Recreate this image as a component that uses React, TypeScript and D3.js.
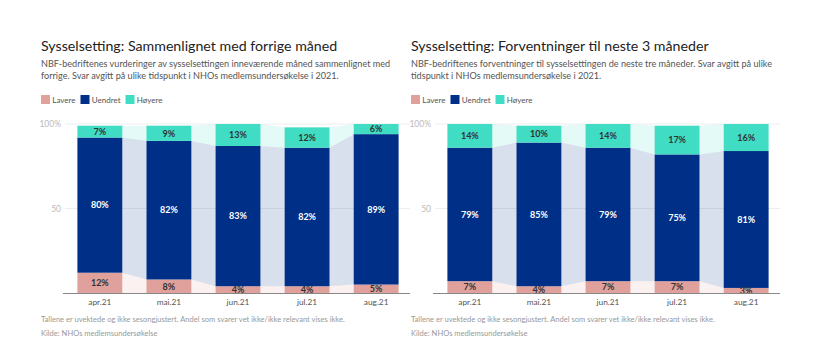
import React, { useEffect, useRef } from "react";
import * as d3 from "d3";

// months on the x axis
const months = ["apr.21", "mai.21", "jun.21", "jul.21", "aug.21"];
const seriesNames = ["Lavere", "Uendret", "Høyere"];
const seriesColors = ["#e0a19c", "#002f87", "#40dcc3"];
const labelColors = ["#333333", "#ffffff", "#333333"];

// left chart: sammenlignet med forrige måned
const lavereNow = [12, 8, 4, 4, 5];
const uendretNow = [80, 82, 83, 82, 89];
const hoyereNow = [7, 9, 13, 12, 6];

// right chart: forventninger til neste 3 måneder
const lavereNext = [7, 4, 7, 7, 3];
const uendretNext = [79, 85, 79, 75, 81];
const hoyereNext = [14, 10, 14, 17, 16];

const yTicks = [50, 100];

interface PanelSpec {
  x0: number;
  title: string;
  subtitle: string[];
  values: number[][];
}

const panels: PanelSpec[] = [
  {
    x0: 0,
    title: "Sysselsetting: Sammenlignet med forrige måned",
    subtitle: [
      "NBF-bedriftenes vurderinger av sysselsettingen inneværende måned sammenlignet med",
      "forrige. Svar avgitt på ulike tidspunkt i NHOs medlemsundersøkelse i 2021.",
    ],
    values: [lavereNow, uendretNow, hoyereNow],
  },
  {
    x0: 370,
    title: "Sysselsetting: Forventninger til neste 3 måneder",
    subtitle: [
      "NBF-bedriftenes forventninger til sysselsettingen de neste tre måneder. Svar avgitt på ulike",
      "tidspunkt i NHOs medlemsundersøkelse i 2021.",
    ],
    values: [lavereNext, uendretNext, hoyereNext],
  },
];

const FONT = "Lato, 'Open Sans', sans-serif";

export default function App() {
  const svgRef = useRef<SVGSVGElement>(null);

  useEffect(() => {
    if (!svgRef.current) return;
    const svg = d3.select(svgRef.current);
    svg.selectAll("*").remove();

    const yScale = d3.scaleLinear().domain([0, 100]).range([293, 124]);

    panels.forEach((p) => {
      const g = svg.append("g").attr("transform", `translate(${p.x0},0)`);

      const xScale = d3
        .scaleBand<string>()
        .domain(months)
        .range([66, 410])
        .paddingInner(0.35)
        .paddingOuter(0.165);
      const bw = xScale.bandwidth();

      // titles
      g.append("text")
        .attr("x", 41)
        .attr("y", 50.5)
        .style("font-family", FONT)
        .style("font-size", "14.2px")
        .style("fill", "#222")
        .text(p.title);

      p.subtitle.forEach((line, i) => {
        g.append("text")
          .attr("x", 41)
          .attr("y", 67 + i * 11.5)
          .style("font-family", FONT)
          .style("font-size", "9.1px")
          .style("fill", "#555")
          .text(line);
      });

      // legend
      const legendX = [41, 80.5, 125.5];
      seriesNames.forEach((name, i) => {
        g.append("rect")
          .attr("x", legendX[i])
          .attr("y", 95)
          .attr("width", 9)
          .attr("height", 9)
          .attr("fill", seriesColors[i]);
        g.append("text")
          .attr("x", legendX[i] + 11.3)
          .attr("y", 102.8)
          .style("font-family", FONT)
          .style("font-size", "8px")
          .style("fill", "#555")
          .text(name);
      });

      // gridlines + y labels
      yTicks.forEach((t) => {
        g.append("line")
          .attr("x1", 65)
          .attr("x2", 410)
          .attr("y1", yScale(t))
          .attr("y2", yScale(t))
          .attr("stroke", "#eeeeee")
          .attr("stroke-width", 1);
        g.append("text")
          .attr("x", 61)
          .attr("y", yScale(t) + 3)
          .attr("text-anchor", "end")
          .style("font-family", FONT)
          .style("font-size", "8.5px")
          .style("fill", "#bbbbbb")
          .text(t === 100 ? "100%" : String(t));
      });

      // stacked data
      const stacks = months.map((_, mi) => {
        let acc = 0;
        return p.values.map((vals) => {
          const y0 = acc;
          acc += vals[mi];
          return { y0, y1: acc, v: vals[mi] };
        });
      });

      // ribbons between bars
      seriesNames.forEach((_, si) => {
        for (let mi = 0; mi < months.length - 1; mi++) {
          const a = stacks[mi][si];
          const b = stacks[mi + 1][si];
          const xa = (xScale(months[mi]) || 0) + bw;
          const xb = xScale(months[mi + 1]) || 0;
          const pts: [number, number][] = [
            [xa, yScale(a.y0)],
            [xa, yScale(a.y1)],
            [xb, yScale(b.y1)],
            [xb, yScale(b.y0)],
          ];
          g.append("path")
            .attr("d", d3.line()(pts) + "Z")
            .attr("fill", seriesColors[si])
            .attr("fill-opacity", 0.15);
        }
      });

      // bars
      months.forEach((m, mi) => {
        const bx = xScale(m) || 0;
        stacks[mi].forEach((s, si) => {
          g.append("rect")
            .attr("x", bx)
            .attr("y", yScale(s.y1))
            .attr("width", bw)
            .attr("height", yScale(s.y0) - yScale(s.y1))
            .attr("fill", seriesColors[si]);
        });
        stacks[mi].forEach((s, si) => {
          g.append("text")
            .attr("x", bx + bw / 2)
            .attr("y", yScale((s.y0 + s.y1) / 2) + 3.3)
            .attr("text-anchor", "middle")
            .style("font-family", FONT)
            .style("font-size", "9px")
            .style("font-weight", "700")
            .style("fill", labelColors[si])
            .text(`${s.v}%`);
        });
      });

      // baseline
      g.append("line")
        .attr("x1", 63)
        .attr("x2", 410)
        .attr("y1", 293.5)
        .attr("y2", 293.5)
        .attr("stroke", "#888888")
        .attr("stroke-width", 1);

      // x axis labels
      months.forEach((m) => {
        g.append("text")
          .attr("x", (xScale(m) || 0) + bw / 2)
          .attr("y", 305)
          .attr("text-anchor", "middle")
          .style("font-family", FONT)
          .style("font-size", "8.3px")
          .style("fill", "#555")
          .text(m);
      });

      // footer
      g.append("text")
        .attr("x", 41)
        .attr("y", 322)
        .style("font-family", FONT)
        .style("font-size", "7.55px")
        .style("fill", "#999")
        .text(
          "Tallene er uvektede og ikke sesongjustert. Andel som svarer vet ikke/ikke relevant vises ikke."
        );
      g.append("text")
        .attr("x", 41)
        .attr("y", 336)
        .style("font-family", FONT)
        .style("font-size", "7.55px")
        .style("fill", "#999")
        .text("Kilde: NHOs medlemsundersøkelse");
    });
  }, []);

  return (
    <svg
      ref={svgRef}
      width={815}
      height={362}
      style={{ position: "absolute", left: 0, top: 0, background: "#fff" }}
    />
  );
}
